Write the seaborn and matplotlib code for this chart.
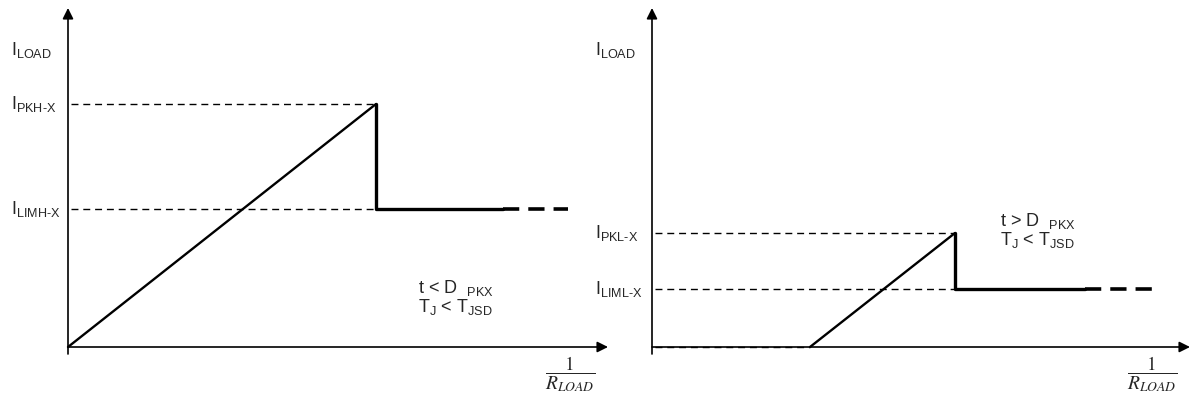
import matplotlib
matplotlib.use('Agg')
import matplotlib.pyplot as plt
import seaborn as sns

sns.set_style('white')
plt.rcParams['font.family'] = ['Liberation Sans', 'DejaVu Sans']
plt.rcParams['mathtext.fontset'] = 'custom'
plt.rcParams['mathtext.rm'] = 'Liberation Sans'
plt.rcParams['mathtext.it'] = 'Liberation Sans:italic'
plt.rcParams['mathtext.bf'] = 'Liberation Sans:bold'

# left panel: high-side peak / limit (x = 1/R_LOAD, y = I_LOAD, arbitrary units)
left_x = [0.0, 3.08, 3.08, 4.35]
left_y = [0.0, 2.43, 1.38, 1.38]
left_tail_x = [4.35, 5.00]
left_levels = [2.43, 1.38]
left_level_ends = [3.08, 3.08]
left_level_labels = [r'I$_{\rm PKH\text{-}X}$', r'I$_{\rm LIMH\text{-}X}$']
left_cond = [r't < D  ${}_{\rm PKX}$', r'T$_{\rm J}$ < T$_{\rm JSD}$']

# right panel: low-side peak / limit
right_x = [1.58, 3.03, 3.03, 4.33]
right_y = [0.0, 1.14, 0.58, 0.58]
right_tail_x = [4.33, 5.03]
right_levels = [1.14, 0.58, 0.0]
right_level_ends = [3.03, 3.03, 1.58]
right_level_labels = [r'I$_{\rm PKL\text{-}X}$', r'I$_{\rm LIML\text{-}X}$', None]
right_cond = [r't > D  ${}_{\rm PKX}$', r'T$_{\rm J}$ < T$_{\rm JSD}$']

W, H = 1199, 403
fig = plt.figure(figsize=(W / 100, H / 100), dpi=100)


def make_axes(ox, oy):
    # one transparent axes over the full figure, origin at pixel (ox, oy), 100 px per unit
    ax = fig.add_axes([0, 0, 1, 1])
    ax.set_xlim(-ox / 100, (W - ox) / 100)
    ax.set_ylim(-(H - oy) / 100, oy / 100)
    ax.axis('off')
    ax.patch.set_alpha(0)
    return ax


def draw_panel(ax, xs, ys, tail, levels, ends, labels, cond, x_end, cond_xy, lab_x):
    # axes arrows
    ax.annotate('', xy=(0, 3.39), xytext=(0, -0.07),
                arrowprops=dict(arrowstyle='-|>', lw=1.2, color='black', mutation_scale=16, shrinkA=0, shrinkB=0))
    ax.annotate('', xy=(x_end, 0), xytext=(0, 0),
                arrowprops=dict(arrowstyle='-|>', lw=1.2, color='black', mutation_scale=16, shrinkA=0, shrinkB=0))
    # reference levels
    for lv, e, lab in zip(levels, ends, labels):
        ax.plot([0.03, e], [lv, lv], color='black', lw=1.0, ls=(0, (5, 3.5)))
        if lab:
            ax.text(lab_x, lv, lab, fontsize=13, ha='left', va='center')
    # characteristic: ramp, then drop and limit plateau
    sns.lineplot(x=xs[:2], y=ys[:2], ax=ax, color='black', lw=1.7, sort=False, estimator=None)
    sns.lineplot(x=xs[1:], y=ys[1:], ax=ax, color='black', lw=2.4, sort=False, estimator=None)
    ax.plot(tail, [ys[-1], ys[-1]], color='black', lw=2.6, ls=(0, (4.5, 2.5)), solid_capstyle='butt')
    ax.text(lab_x, 2.97, r'I$_{\rm LOAD}$', fontsize=13, ha='left', va='center')
    ax.text(cond_xy[0], cond_xy[1], cond[0], fontsize=13, ha='left', va='center')
    ax.text(cond_xy[0], cond_xy[1] - 0.19, cond[1], fontsize=13, ha='left', va='center')
    ax.text(x_end - 0.38, -0.27, r'$\dfrac{1}{R_{LOAD}}$', fontsize=14, ha='center', va='center',
            math_fontfamily='stix')


axl = make_axes(68, 347)
draw_panel(axl, left_x, left_y, left_tail_x, left_levels, left_level_ends, left_level_labels,
           left_cond, 5.40, (3.50, 0.59), -0.57)

axr = make_axes(652, 347)
draw_panel(axr, right_x, right_y, right_tail_x, right_levels, right_level_ends, right_level_labels,
           right_cond, 5.38, (3.48, 1.26), -0.57)

fig.savefig('out.png', dpi=100)
